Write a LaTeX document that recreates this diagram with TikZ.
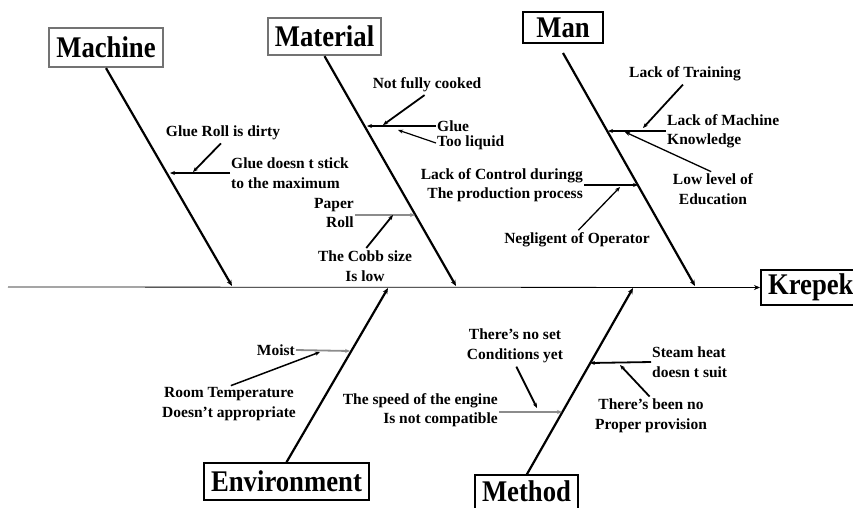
\documentclass[tikz,border=0pt]{standalone}
\usepackage{fontspec}
\usepackage{graphicx}
\setmainfont{Liberation Serif}
\usetikzlibrary{arrows.meta}
\newcommand\lbfont{\fontsize{15.5}{19.5}\selectfont\bfseries}
\newcommand\ttlfont{\fontsize{30}{32}\selectfont\bfseries}
\newcommand\ttltext[1]{\scalebox{0.89}[1]{#1}}
\begin{document}
\begin{tikzpicture}[x=1pt,y=-1pt,
  lbl/.style={font=\lbfont, align=center, inner sep=1pt},
  ttl/.style={draw, line width=1.6pt, font=\ttlfont, inner sep=0pt, fill=white},
  gttl/.style={ttl, draw=black!55, line width=2.2pt},
  bone/.style={line width=2.2pt, -{Stealth[length=6pt,width=5pt]}},
  sub/.style={line width=1.8pt, -{Stealth[length=5pt,width=4pt]}},
  gsub/.style={sub, draw=black!45},
  spine/.style={line width=0.8pt, -{Stealth[length=6pt,width=5pt]}}]
\useasboundingbox (0,0) rectangle (853,507);
\begin{scope}
\clip (0,0) rectangle (853,507);
% title boxes
\node[gttl, minimum width=114pt, minimum height=39pt] (machine) at (106,47.5) {\ttltext{Machine}};
\node[gttl, minimum width=113pt, minimum height=37pt] (material) at (324.5,36.5) {\ttltext{Material}};
\node[ttl, minimum width=80pt, minimum height=31pt] (man) at (563,27.5) {\ttltext{Man}};
\node[ttl, minimum width=165pt, minimum height=37pt] (env) at (286.5,481.5) {\ttltext{Environment}};
\node[ttl, draw=none, minimum width=101pt, minimum height=30pt, anchor=north] (method) at (526.5,475) {\ttltext{Method}};
\draw[line width=1.6pt] ([yshift=-8pt]method.south west) -- (method.north west) -- (method.north east) -- ([yshift=-8pt]method.south east);
\node[ttl, minimum width=100pt, minimum height=35pt, anchor=west] (krepek) at (760,287.5) {\ttltext{Krepek}};

% spine
\coordinate (tail) at (8,287);
\draw[spine] (tail) -- (krepek.west);

% main bones
\coordinate (mcE) at (232,286);
\coordinate (mtE) at (456,286);
\coordinate (mnS) at (563,53);
\coordinate (mnE) at (695,286);
\coordinate (evE) at (388,288);
\coordinate (mdE) at (633,288);
\draw[bone] (machine.south) -- (mcE);
\draw[bone] (material.south) -- (mtE);
\draw[bone] (mnS) -- (mnE);
\draw[bone] (env.north) -- (evE);
\draw[bone] (method.north) -- (mdE);

% Machine causes
\node[lbl] (gr) at (223,133) {Glue Roll is dirty};
\node[lbl, anchor=west, align=left] (gd) at (230,173) {Glue doesn t stick\\to the maximum};
\coordinate (gdE) at (170,173);
\coordinate (grE) at (193,172);
\draw[sub] (gd.west) -- (gdE);
\draw[sub, shorten <=3pt] (gr.south) -- (grE);

% Material causes
\node[lbl] (nfc) at (427,85) {Not fully cooked};
\node[lbl, anchor=west] (glue) at (436,126) {Glue};
\node[lbl, anchor=west] (tl) at (436,143) {Too liquid};
\coordinate (glueE) at (367,126);
\coordinate (nfcE) at (383,125);
\coordinate (tlE) at (398,130);
\draw[sub] (glue.west) -- (glueE);
\draw[sub, shorten <=3pt] (nfc.south) -- (nfcE);
\draw[sub, line width=1.2pt] (tl.west) -- (tlE);
\node[lbl, anchor=east, align=right] (paper) at (355,213) {Paper\\Roll};
\node[lbl] (cobb) at (365,266) {The Cobb size\\Is low};
\coordinate (paperE) at (415,215);
\coordinate (cobbE) at (393,215);
\draw[gsub] ([yshift=-2pt]paper.east) -- (paperE);
\draw[sub, shorten <=2pt] (cobb.north) -- (cobbE);

% Man causes
\node[lbl] (lt) at (685,74) {Lack of Training};
\node[lbl, anchor=west, align=left] (lmk) at (666,131) {Lack of Machine\\Knowledge};
\node[lbl] (low) at (713,189) {Low level of\\Education};
\coordinate (lmkE) at (608,131);
\coordinate (ltE) at (643,128);
\coordinate (lowE) at (625,132);
\draw[sub] (lmk.west) -- (lmkE);
\draw[sub, shorten <=3pt] (lt.south) -- (ltE);
\draw[sub, line width=1.3pt, shorten <=2pt] (low.north) -- (lowE);
\node[lbl, anchor=east, align=right] (ctrl) at (584,185) {Lack of Control duringg\\The production process};
\node[lbl] (neg) at (577,240) {Negligent of Operator};
\coordinate (ctrlE) at (638,185);
\coordinate (negE) at (620,187);
\draw[sub] (ctrl.east) -- (ctrlE);
\draw[sub, line width=1.3pt, shorten <=2pt] (neg.north) -- (negE);

% Environment causes
\node[lbl, anchor=east] (moist) at (296,350) {Moist};
\node[lbl] (room) at (229,404) {Room Temperature\\Doesn’t appropriate};
\coordinate (moistE) at (350,351);
\coordinate (roomE) at (320,352);
\draw[gsub] (moist.east) -- (moistE);
\draw[sub, line width=1.5pt, shorten <=2pt] (room.north) -- (roomE);

% Method causes
\node[lbl] (cond) at (515,346) {There’s no set\\Conditions yet};
\node[lbl, anchor=east, align=right] (speed) at (499,410) {The speed of the engine\\Is not compatible};
\coordinate (condE) at (537,408);
\coordinate (speedE) at (562,412);
\draw[gsub] ([yshift=-2pt]speed.east) -- (speedE);
\draw[sub, shorten <=3pt] (cond.south) -- (condE);
\node[lbl, anchor=west, align=left] (steam) at (651,362) {Steam heat\\doesn t suit};
\node[lbl] (been) at (651,416) {There’s been no\\Proper provision};
\coordinate (steamE) at (590,363);
\coordinate (beenE) at (620,365);
\draw[sub] (steam.west) -- (steamE);
\draw[sub, shorten <=2pt] (been.north) -- (beenE);
\end{scope}
\end{tikzpicture}
\end{document}
